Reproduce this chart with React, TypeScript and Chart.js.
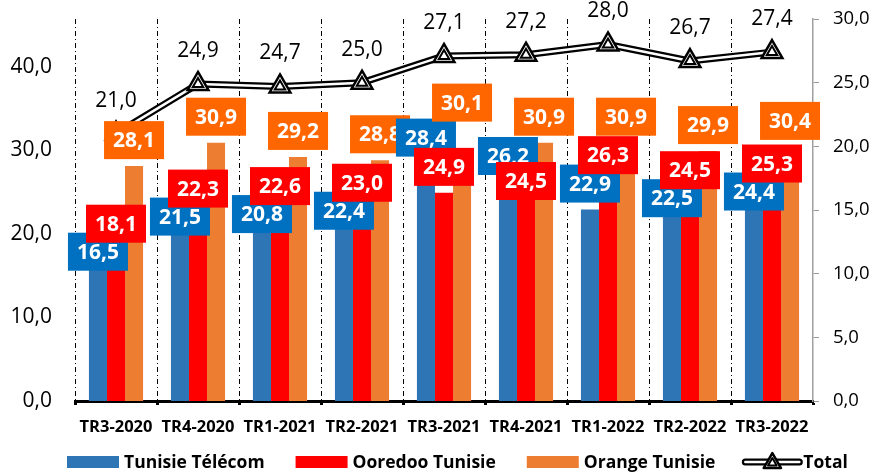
import React, { useEffect, useRef } from "react";
import { Chart, registerables } from "chart.js";

Chart.register(...registerables);

const categories = ["TR3-2020", "TR4-2020", "TR1-2021", "TR2-2021", "TR3-2021", "TR4-2021", "TR1-2022", "TR2-2022", "TR3-2022"];
const tunisieTelecom = [16.5, 21.5, 20.8, 22.4, 28.4, 26.2, 22.9, 22.5, 24.4];
const ooredooTunisie = [18.1, 22.3, 22.6, 23.0, 24.9, 24.5, 26.3, 24.5, 25.3];
const orangeTunisie = [28.1, 30.9, 29.2, 28.8, 30.1, 30.9, 30.9, 29.9, 30.4];
const total = [21.0, 24.9, 24.7, 25.0, 27.1, 27.2, 28.0, 26.7, 27.4];
const leftTicks = [0, 10, 20, 30, 40];
const rightTicks = [0, 5, 10, 15, 20, 25, 30];

const FONT = "'Open Sans', 'DejaVu Sans', sans-serif";
const fmt = (v: number) => v.toFixed(1).replace(".", ",");

const BOX_H = 38;
const OFFSET = 26;

const labelPlugin = {
  id: "valueLabels",
  afterDatasetsDraw(chart: any) {
    const ctx = chart.ctx;
    ctx.save();
    ctx.textAlign = "center";
    ctx.textBaseline = "middle";
    ctx.font = `bold 21px ${FONT}`;
    const ds = chart.data.datasets;
    const metaB = chart.getDatasetMeta(0);
    const metaR = chart.getDatasetMeta(1);
    const metaO = chart.getDatasetMeta(2);
    const drawBox = (text: string, cx: number, cy: number, bg: string) => {
      const w = ctx.measureText(text).width + 18;
      ctx.fillStyle = bg;
      ctx.fillRect(cx - w / 2, cy - BOX_H / 2, w, BOX_H);
      ctx.fillStyle = "#ffffff";
      ctx.fillText(text, cx, cy + 1);
    };
    categories.forEach((_, i) => {
      const b = metaB.data[i];
      const r = metaR.data[i];
      const o = metaO.data[i];
      // default "outside end" placement
      let rc = r.y - OFFSET;
      let bc = b.y - OFFSET;
      let oc = o.y - OFFSET;
      if (bc > rc) {
        // keep the blue label readable under the red one
        if (bc - BOX_H / 2 < rc + BOX_H / 2 - 10) bc = rc + BOX_H - 10;
      } else {
        // keep the blue label readable above the red one
        if (rc - BOX_H / 2 < bc + BOX_H / 2 - 13) rc = bc + BOX_H - 13;
      }
      // lift the orange label above the blue one when they collide
      if (bc < oc + BOX_H / 2 && oc + BOX_H / 2 > bc - BOX_H / 2 + 3 && oc < bc + BOX_H) {
        oc = bc - BOX_H + 3;
      }
      drawBox(fmt(ds[0].data[i]), b.x, bc, ds[0].labelBg);
      drawBox(fmt(ds[2].data[i]), o.x, oc, ds[2].labelBg);
      drawBox(fmt(ds[1].data[i]), r.x, rc, ds[1].labelBg);
    });
    // total labels
    const tMeta = chart.getDatasetMeta(3);
    ctx.font = `21px ${FONT}`;
    ctx.fillStyle = "#000000";
    tMeta.data.forEach((el: any, i: number) => {
      ctx.fillText(fmt(ds[3].data[i]), el.x, el.y - 33);
    });
    ctx.restore();
  },
};

const legendPlugin = {
  id: "customLegend",
  afterDraw(chart: any) {
    const ctx = chart.ctx;
    ctx.save();
    ctx.font = `bold 17.5px ${FONT}`;
    ctx.textBaseline = "middle";
    ctx.textAlign = "left";
    const y = 462;
    let x = 67;
    const ds = chart.data.datasets;
    [0, 1, 2].forEach((di) => {
      ctx.fillStyle = ds[di].backgroundColor;
      ctx.fillRect(x, y - 6, 52, 12);
      ctx.fillStyle = "#000";
      ctx.fillText(ds[di].label, x + 57, y + 1);
      x += 57 + ctx.measureText(ds[di].label).width + (di === 2 ? 27 : 31);
    });
    // Total marker
    const mx = x;
    ctx.lineCap = "round";
    ctx.strokeStyle = "#000";
    ctx.lineWidth = 7;
    ctx.beginPath();
    ctx.moveTo(mx + 3, y);
    ctx.lineTo(mx + 57, y);
    ctx.stroke();
    ctx.strokeStyle = "#fff";
    ctx.lineWidth = 2.5;
    ctx.beginPath();
    ctx.moveTo(mx + 3, y);
    ctx.lineTo(mx + 57, y);
    ctx.stroke();
    const tri = (cx: number, cy: number, r: number, lw: number) => {
      ctx.beginPath();
      for (let k = 0; k < 3; k++) {
        const a = (k * 2 * Math.PI) / 3;
        const px = cx + Math.sin(a) * r;
        const py = cy - Math.cos(a) * r;
        if (k === 0) ctx.moveTo(px, py);
        else ctx.lineTo(px, py);
      }
      ctx.closePath();
      ctx.fillStyle = "#fff";
      ctx.fill();
      ctx.lineWidth = lw;
      ctx.strokeStyle = "#000";
      ctx.lineJoin = "round";
      ctx.stroke();
    };
    tri(mx + 30, y + 1, 10, 2.5);
    tri(mx + 30, y + 1, 5, 2);
    ctx.fillStyle = "#000";
    ctx.fillText(ds[3].label, mx + 61, y + 1);
    ctx.restore();
  },
};

export default function App() {
  const canvasRef = useRef<HTMLCanvasElement | null>(null);

  useEffect(() => {
    document.body.style.margin = "0";
    const canvas = canvasRef.current!;
    const chart = new Chart(canvas, {
      type: "bar",
      data: {
        labels: categories,
        datasets: [
          {
            type: "bar",
            label: "Tunisie Télécom",
            data: tunisieTelecom,
            backgroundColor: "#2E75B6",
            yAxisID: "y",
            order: 10,
            labelBg: "#0070C0",
          } as any,
          {
            type: "bar",
            label: "Ooredoo Tunisie",
            data: ooredooTunisie,
            backgroundColor: "#FF0000",
            yAxisID: "y",
            order: 10,
            labelBg: "#FF0000",
          } as any,
          {
            type: "bar",
            label: "Orange Tunisie",
            data: orangeTunisie,
            backgroundColor: "#ED7D31",
            yAxisID: "y",
            order: 10,
            labelBg: "#FF6600",
          } as any,
          {
            type: "line",
            label: "Total",
            data: total,
            yAxisID: "y1",
            borderColor: "#000000",
            borderWidth: 7,
            borderJoinStyle: "round",
            pointRadius: 0,
            tension: 0,
            order: 4,
          } as any,
          {
            type: "line",
            label: "Total",
            data: total,
            yAxisID: "y1",
            borderColor: "#ffffff",
            borderWidth: 2.5,
            borderJoinStyle: "round",
            pointRadius: 0,
            tension: 0,
            order: 3,
          } as any,
          {
            type: "line",
            label: "Total",
            data: total,
            yAxisID: "y1",
            showLine: false,
            pointStyle: "triangle",
            pointRadius: 12,
            pointBackgroundColor: "#ffffff",
            pointBorderColor: "#000000",
            pointBorderWidth: 2.5,
            order: 2,
          } as any,
          {
            type: "line",
            label: "Total",
            data: total,
            yAxisID: "y1",
            showLine: false,
            pointStyle: "triangle",
            pointRadius: 6,
            pointBackgroundColor: "#ffffff",
            pointBorderColor: "#000000",
            pointBorderWidth: 2,
            order: 1,
          } as any,
        ],
      },
      options: {
        responsive: false,
        animation: false,
        devicePixelRatio: 1,
        layout: { padding: { top: 19, bottom: 31, left: 0, right: 0 } },
        datasets: {
          bar: { categoryPercentage: 0.66, barPercentage: 1.0 },
        },
        plugins: {
          legend: { display: false },
          tooltip: { enabled: false },
        },
        scales: {
          x: {
            offset: true,
            grid: {
              offset: true,
              display: true,
              drawOnChartArea: true,
              drawTicks: true,
              tickLength: 4,
              tickWidth: 3,
              tickColor: "#000000",
              tickBorderDash: [],
              lineWidth: 1,
              color: (c: any) => (c.index === undefined ? "rgba(0,0,0,0)" : "#000000"),
            },
            border: { display: true, color: "#000000", width: 3, dash: [5, 3, 1, 3] },
            ticks: {
              color: "#000000",
              font: { family: FONT, size: 16.5, weight: "bold" },
              padding: 12,
              maxRotation: 0,
              autoSkip: false,
            },
            afterFit: (s: any) => {
              s.height = 40;
            },
          },
          y: {
            position: "left",
            min: 0,
            max: 45.7,
            grid: { display: false, drawTicks: false },
            border: { display: false },
            afterBuildTicks: (s: any) => {
              s.ticks = leftTicks.map((v) => ({ value: v }));
            },
            ticks: {
              color: "#000000",
              font: { family: FONT, size: 21 },
              padding: 23,
              callback: (v: any) => fmt(Number(v)),
            },
            afterFit: (s: any) => {
              s.width = 75;
              s.paddingTop = 0;
              s.paddingBottom = 0;
            },
          },
          y1: {
            position: "right",
            min: 0,
            max: 30,
            grid: {
              display: true,
              drawOnChartArea: false,
              drawTicks: true,
              tickLength: 6,
              tickColor: "#999999",
              tickWidth: 1,
            },
            border: { display: true, color: "#a0a0a0", width: 1.5 },
            afterBuildTicks: (s: any) => {
              s.ticks = rightTicks.map((v) => ({ value: v }));
            },
            ticks: {
              color: "#000000",
              font: { family: FONT, size: 18.5 },
              padding: 14,
              callback: (v: any) => fmt(Number(v)),
            },
            afterFit: (s: any) => {
              s.width = 62;
              s.paddingTop = 0;
              s.paddingBottom = 0;
            },
          },
        },
      } as any,
      plugins: [labelPlugin, legendPlugin],
    });
    return () => chart.destroy();
  }, []);

  return (
    <div style={{ position: "fixed", left: 0, top: 0, width: 875, height: 472, background: "#fff" }}>
      <canvas ref={canvasRef} width={875} height={472} style={{ width: 875, height: 472 }} />
    </div>
  );
}
